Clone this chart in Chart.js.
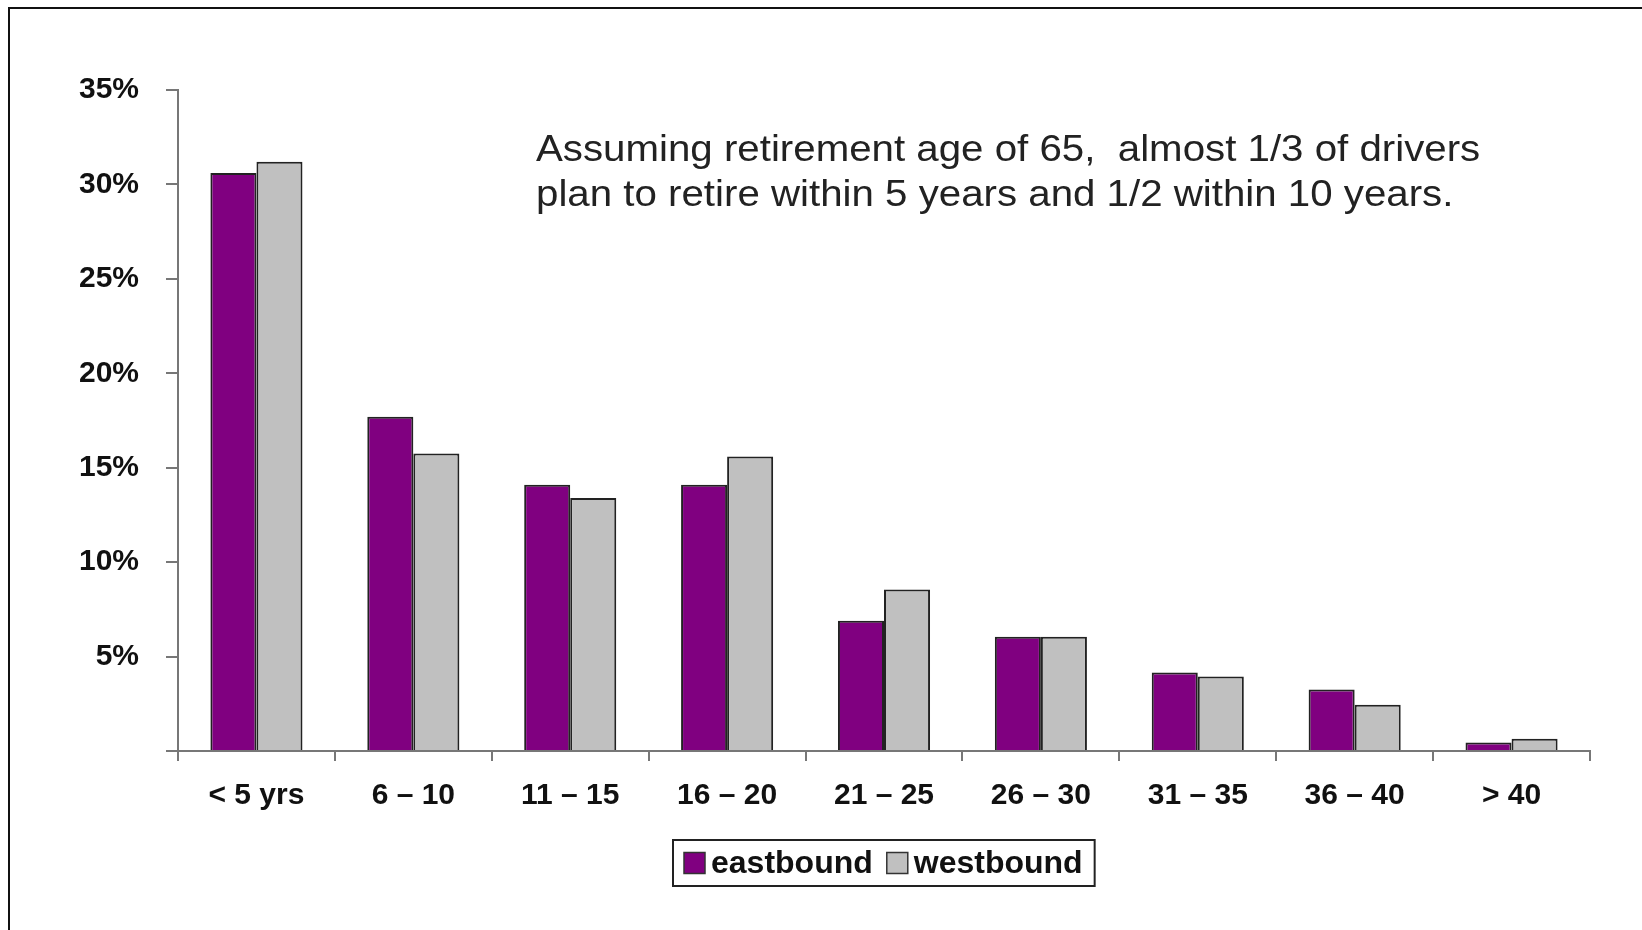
<!DOCTYPE html>
<html>
<head>
<meta charset="utf-8">
<script src="https://cdn.jsdelivr.net/npm/chart.js@4/dist/chart.umd.min.js"></script>
<style>
  html, body { margin: 0; padding: 0; background: #fff; }
  #wrap { width: 1642px; height: 930px; }
  canvas { display: block; }
</style>
</head>
<body>
<div id="wrap"><canvas id="c" width="1642" height="930"></canvas></div>
<script>
const categories = ['< 5 yrs', '6 – 10', '11 – 15', '16 – 20', '21 – 25', '26 – 30', '31 – 35', '36 – 40', '> 40'];
const eastbound = [30.6, 17.7, 14.1, 14.1, 6.9, 6.05, 4.15, 3.25, 0.45];
const westbound = [31.2, 15.75, 13.4, 15.6, 8.55, 6.05, 3.95, 2.45, 0.65];
const seriesNames = ['eastbound', 'westbound'];
const yMin = 0, yMax = 35, yStep = 5;
const noteLines = ['Assuming retirement age of 65,  almost 1/3 of drivers', 'plan to retire within 5 years and 1/2 within 10 years.'];

const FONT = "'Liberation Sans', Arial, sans-serif";

const framePlugin = {
  id: 'frame',
  beforeDraw(chart) {
    const ctx = chart.ctx;
    ctx.save();
    ctx.fillStyle = '#ffffff';
    ctx.fillRect(0, 0, chart.width, chart.height);
    ctx.strokeStyle = '#111';
    ctx.lineWidth = 2;
    ctx.beginPath();
    ctx.moveTo(9, chart.height);
    ctx.lineTo(9, 8);
    ctx.lineTo(chart.width, 8);
    ctx.stroke();
    ctx.restore();
  }
};

const notePlugin = {
  id: 'note',
  afterDraw(chart) {
    const ctx = chart.ctx;
    ctx.save();
    ctx.font = '37px ' + FONT;
    ctx.fillStyle = '#222';
    ctx.textAlign = 'left';
    ctx.textBaseline = 'middle';
    ctx.translate(536, 0);
    ctx.scale(1.088, 1);
    ctx.fillText(noteLines[0], 0, 151);
    ctx.fillText(noteLines[1], 0, 196);
    ctx.restore();
  }
};

const legendPlugin = {
  id: 'boxLegend',
  afterDraw(chart) {
    const ctx = chart.ctx;
    const ds = chart.data.datasets;
    ctx.save();
    ctx.font = 'bold 32px ' + FONT;
    const sq = 21, gapText = 6, gapItem = 14, padL = 11, padR = 12;
    let total = padL + padR;
    const widths = ds.map(d => ctx.measureText(d.label).width);
    widths.forEach((w, i) => { total += sq + gapText + w + (i < widths.length - 1 ? gapItem : 0); });
    const ca = chart.chartArea;
    const cx = (ca.left + ca.right) / 2;
    const top = 840, h = 46;
    const left = Math.round(cx - total / 2);
    ctx.fillStyle = '#fff';
    ctx.fillRect(left, top, total, h);
    ctx.strokeStyle = '#222';
    ctx.lineWidth = 2;
    ctx.strokeRect(left, top, total, h);
    let x = left + padL;
    const midY = top + h / 2;
    ds.forEach((d, i) => {
      ctx.fillStyle = d.backgroundColor;
      ctx.fillRect(x, midY - sq / 2, sq, sq);
      ctx.strokeStyle = '#333';
      ctx.lineWidth = 1.5;
      ctx.strokeRect(x, midY - sq / 2, sq, sq);
      x += sq + gapText;
      ctx.fillStyle = '#111';
      ctx.textAlign = 'left';
      ctx.textBaseline = 'middle';
      ctx.fillText(d.label, x, midY + 1);
      x += widths[i] + gapItem;
    });
    ctx.restore();
  }
};

new Chart(document.getElementById('c'), {
  type: 'bar',
  data: {
    labels: categories,
    datasets: [
      { label: seriesNames[0], data: eastbound, backgroundColor: '#800080', borderColor: '#222', borderWidth: 2 },
      { label: seriesNames[1], data: westbound, backgroundColor: '#c0c0c0', borderColor: '#222', borderWidth: 2 }
    ]
  },
  options: {
    responsive: false,
    animation: false,
    layout: { padding: { left: 0, right: 52, top: 90, bottom: 0 } },
    datasets: { bar: { categoryPercentage: 0.587, barPercentage: 1.0 } },
    plugins: { legend: { display: false }, tooltip: { enabled: false } },
    scales: {
      x: {
        offset: true,
        grid: { display: true, offset: true, drawOnChartArea: false, drawTicks: true, tickLength: 10, color: '#777', lineWidth: 2 },
        border: { display: true, color: '#777', width: 2 },
        ticks: { color: '#111', font: { family: FONT, size: 30, weight: 'bold' }, padding: 17, maxRotation: 0, autoSkip: false },
        afterFit(scale) { scale.height = 179; }
      },
      y: {
        min: yMin, max: yMax,
        grid: { display: true, drawOnChartArea: false, drawTicks: true, tickLength: 12, color: '#777', lineWidth: 2 },
        border: { display: true, color: '#777', width: 2 },
        ticks: {
          stepSize: yStep, color: '#111', padding: 27,
          font: { family: FONT, size: 30, weight: 'bold' },
          callback: v => v === 0 ? '' : v + '%'
        },
        afterFit(scale) { scale.width = 178; }
      }
    }
  },
  plugins: [framePlugin, notePlugin, legendPlugin]
});
</script>
</body>
</html>
